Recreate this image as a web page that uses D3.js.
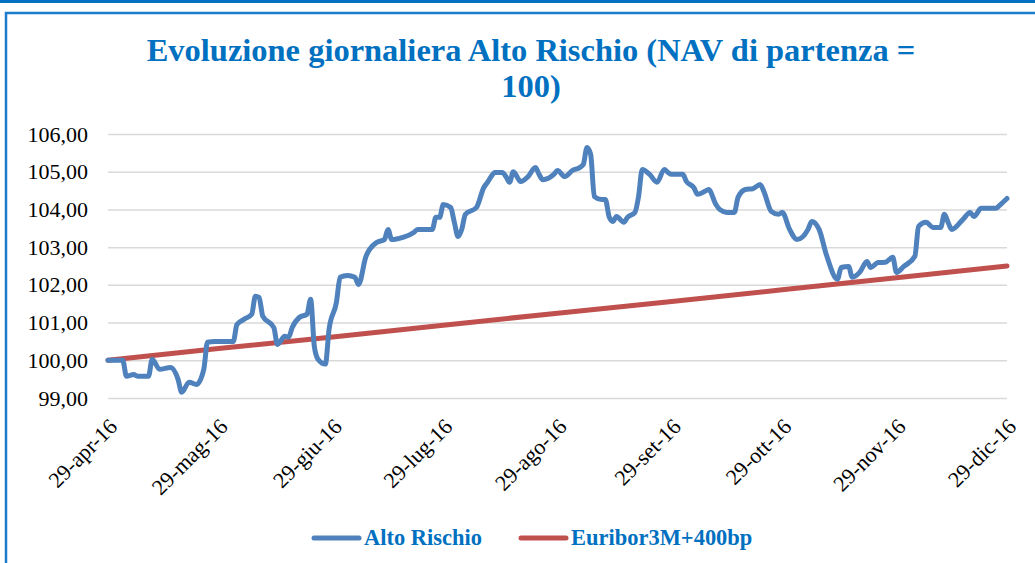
<!DOCTYPE html>
<html>
<head>
<meta charset="utf-8">
<script src="https://cdn.jsdelivr.net/npm/d3@7"></script>
<style>
  body { margin: 0; background: #fff; }
  svg { display: block; }
  svg text { font-family: "Liberation Serif", "Times New Roman", "DejaVu Serif", serif; }
</style>
</head>
<body>
<div id="chart"></div>
<script>
// --- data ---
var dates = [
  "2016-04-29","2016-05-03","2016-05-04","2016-05-06","2016-05-07","2016-05-10","2016-05-11","2016-05-13",
  "2016-05-16","2016-05-18","2016-05-19","2016-05-21","2016-05-23","2016-05-25","2016-05-26","2016-05-28",
  "2016-06-02","2016-06-03","2016-06-05","2016-06-07","2016-06-08","2016-06-09","2016-06-10","2016-06-13",
  "2016-06-14","2016-06-16","2016-06-17","2016-06-18","2016-06-20","2016-06-22","2016-06-23","2016-06-24",
  "2016-06-25","2016-06-27","2016-06-28","2016-06-30","2016-07-01","2016-07-03","2016-07-05","2016-07-06",
  "2016-07-08","2016-07-09","2016-07-11","2016-07-13","2016-07-14","2016-07-15","2016-07-18","2016-07-21",
  "2016-07-22","2016-07-26","2016-07-27","2016-07-28","2016-07-29","2016-07-31","2016-08-01","2016-08-02",
  "2016-08-03","2016-08-04","2016-08-07","2016-08-09","2016-08-10","2016-08-11","2016-08-12","2016-08-14",
  "2016-08-15","2016-08-16","2016-08-17","2016-08-19","2016-08-21","2016-08-23","2016-08-24","2016-08-25",
  "2016-08-28","2016-08-29","2016-08-31","2016-09-02","2016-09-04","2016-09-05","2016-09-06","2016-09-07",
  "2016-09-08","2016-09-10","2016-09-11","2016-09-12","2016-09-13","2016-09-14","2016-09-16","2016-09-17",
  "2016-09-19","2016-09-20","2016-09-21","2016-09-23","2016-09-25","2016-09-27","2016-09-28","2016-09-29",
  "2016-10-02","2016-10-03","2016-10-05","2016-10-06","2016-10-08","2016-10-09","2016-10-11","2016-10-12",
  "2016-10-14","2016-10-16","2016-10-17","2016-10-19","2016-10-21","2016-10-23","2016-10-24","2016-10-26",
  "2016-10-28","2016-10-29","2016-10-31","2016-11-02","2016-11-05","2016-11-06","2016-11-08","2016-11-10",
  "2016-11-13","2016-11-14","2016-11-16","2016-11-17","2016-11-19","2016-11-21","2016-11-22","2016-11-24",
  "2016-11-26","2016-11-28","2016-11-29","2016-12-01","2016-12-04","2016-12-05","2016-12-07","2016-12-09",
  "2016-12-11","2016-12-12","2016-12-13","2016-12-14","2016-12-17","2016-12-19","2016-12-20","2016-12-22",
  "2016-12-26","2016-12-27","2016-12-29"
];
var altoRischio = [
  100.00, 100.00, 99.58, 99.62, 99.58, 99.58, 100.03, 99.76,
  99.81, 99.50, 99.15, 99.42, 99.36, 99.76, 100.48, 100.50,
  100.50, 100.95, 101.09, 101.22, 101.70, 101.67, 101.17, 100.87,
  100.42, 100.64, 100.61, 100.87, 101.14, 101.22, 101.62, 100.37,
  100.03, 99.90, 100.82, 101.54, 102.20, 102.25, 102.20, 102.01,
  102.75, 102.94, 103.13, 103.20, 103.47, 103.20, 103.26, 103.39,
  103.47, 103.47, 103.79, 103.79, 104.13, 104.05, 103.66, 103.28,
  103.47, 103.87, 104.05, 104.58, 104.72, 104.87, 104.98, 104.98,
  104.87, 104.72, 105.00, 104.74, 104.87, 105.11, 104.93, 104.79,
  104.93, 105.03, 104.87, 105.03, 105.11, 105.19, 105.64, 105.46,
  104.34, 104.26, 104.26, 103.81, 103.68, 103.81, 103.66, 103.79,
  103.92, 104.34, 105.06, 104.93, 104.72, 105.06, 104.98, 104.93,
  104.93, 104.74, 104.58, 104.40, 104.48, 104.53, 104.13, 104.00,
  103.92, 103.92, 104.32, 104.53, 104.55, 104.66, 104.48, 103.95,
  103.87, 103.92, 103.47, 103.20, 103.47, 103.68, 103.47, 102.79,
  102.15, 102.46, 102.49, 102.20, 102.33, 102.62, 102.46, 102.59,
  102.60, 102.73, 102.33, 102.49, 102.76, 103.55, 103.66, 103.52,
  103.52, 103.87, 103.66, 103.47, 103.73, 103.92, 103.81, 104.03,
  104.03, 104.11, 104.29
];
var euriborDates = ["2016-04-29","2016-05-29","2016-06-29","2016-07-29","2016-08-29","2016-09-29","2016-10-29","2016-11-29","2016-12-29"];
var euribor = [100.00, 100.31, 100.62, 100.93, 101.25, 101.56, 101.87, 102.19, 102.50];
var tickDates = euriborDates;
var tickLabels = ["29-apr-16","29-mag-16","29-giu-16","29-lug-16","29-ago-16","29-set-16","29-ott-16","29-nov-16","29-dic-16"];
var yTicks = [99, 100, 101, 102, 103, 104, 105, 106];

var W = 1035, H = 563;
var blue = "#4F81BD", red = "#C0504D", titleBlue = "#0070C0";
var margin = {left: 108, right: 28, top: 134, bottom: 165};

var parse = d3.timeParse("%Y-%m-%d");
var it = d3.formatLocale({decimal: ",", thousands: ".", grouping: [3], currency: ["", " €"]});
var fmt = it.format(".2f");

// scale a font size so that a given text node gets the wanted width
function fitSize(node, size, wanted) {
  var w = node.getComputedTextLength();
  return w > 0 ? size * wanted / w : size;
}

var svg = d3.select("#chart").append("svg")
  .attr("width", W).attr("height", H);

// frame
svg.append("rect").attr("x", 0).attr("y", 0).attr("width", W).attr("height", 3).attr("fill", titleBlue);
svg.append("path")
  .attr("d", "M6," + H + " V13 H" + W)
  .attr("fill", "none").attr("stroke", "#1a7ccb").attr("stroke-width", 2.5);

// title
var title = svg.append("text")
  .attr("text-anchor", "middle")
  .attr("font-weight", "bold")
  .attr("font-size", 30).attr("fill", titleBlue);
var t1 = title.append("tspan").attr("x", 531).attr("y", 61).text("Evoluzione giornaliera Alto Rischio (NAV di partenza =");
title.append("tspan").attr("x", 531).attr("y", 97).text("100)");
title.attr("font-size", fitSize(t1.node(), 30, 769));

var x = d3.scaleTime()
  .domain([parse(tickDates[0]), parse(tickDates[tickDates.length - 1])])
  .range([margin.left, W - margin.right]);
var y = d3.scaleLinear().domain([99, 106]).range([H - margin.bottom, margin.top]);

// grid + y labels
var yAxis = svg.append("g")
  .attr("transform", "translate(" + margin.left + ",0)")
  .call(d3.axisLeft(y).tickValues(yTicks).tickFormat(fmt)
    .tickSize(-(W - margin.right - margin.left)).tickPadding(20));
yAxis.select(".domain").remove();
yAxis.selectAll("line").attr("stroke", "#d9d9d9").attr("stroke-width", 1.5);
yAxis.selectAll("text").attr("font-size", 22).attr("fill", "#000");

// x labels
var xAxis = svg.append("g")
  .attr("transform", "translate(0," + (H - margin.bottom) + ")")
  .call(d3.axisBottom(x).tickValues(tickDates.map(parse)).tickSize(0)
    .tickFormat(function (d, i) { return tickLabels[i]; }));
xAxis.select(".domain").remove();
xAxis.selectAll("text")
  .attr("font-size", 22).attr("fill", "#000")
  .attr("text-anchor", "end")
  .attr("dy", 0).attr("y", 0)
  .attr("transform", "translate(10,30) rotate(-45)");

// lines
var blueLine = d3.line()
  .x(function (d, i) { return x(parse(dates[i])); })
  .y(function (d) { return y(d); })
  .curve(d3.curveMonotoneX);
var redLine = d3.line()
  .x(function (d, i) { return x(parse(euriborDates[i])); })
  .y(function (d) { return y(d); });

svg.append("path").datum(euribor)
  .attr("d", redLine)
  .attr("fill", "none").attr("stroke", red).attr("stroke-width", 5).attr("stroke-linecap", "round");
svg.append("path").datum(altoRischio)
  .attr("d", blueLine)
  .attr("fill", "none").attr("stroke", blue).attr("stroke-width", 5)
  .attr("stroke-linejoin", "round").attr("stroke-linecap", "round");

// legend
var legend = [
  {name: "Alto Rischio", color: blue, x: 312},
  {name: "Euribor3M+400bp", color: red, x: 519}
];
var lg = svg.selectAll(".legend").data(legend).enter().append("g")
  .attr("class", "legend")
  .attr("transform", function (d) { return "translate(" + d.x + ",538)"; });
lg.append("line")
  .attr("x1", 2).attr("x2", 47).attr("y1", 0).attr("y2", 0)
  .attr("stroke", function (d) { return d.color; }).attr("stroke-width", 5).attr("stroke-linecap", "round");
var lgText = lg.append("text")
  .attr("x", 52).attr("y", 7)
  .attr("font-weight", "bold").attr("font-size", 21)
  .attr("fill", titleBlue)
  .text(function (d) { return d.name; });
lgText.attr("font-size", fitSize(lgText.nodes()[0], 21, 118));
</script>
</body>
</html>
